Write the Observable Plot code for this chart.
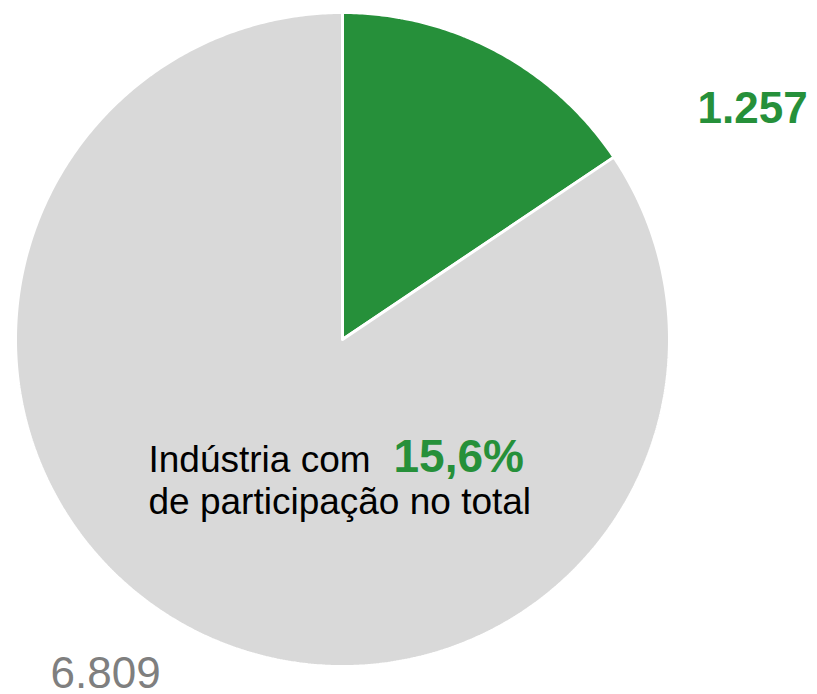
<!DOCTYPE html>
<html>
<head>
<meta charset="utf-8">
<script src="https://cdn.jsdelivr.net/npm/d3@7"></script>
<script src="https://cdn.jsdelivr.net/npm/@observablehq/plot@0.6"></script>
<style>
  html, body { margin: 0; padding: 0; background: #fff; }
  #chart svg { display: block; }
</style>
</head>
<body>
<div id="chart"></div>
<script>
// ---- data ----
const categories = ["Indústria", "Demais"];
const values = [1257, 6809];
const colors = ["#26903a", "#d9d9d9"];
const labelColors = ["#26903a", "#7f7f7f"];
const labelWeights = ["bold", "normal"];
const captionLine1 = "Indústria com";
const captionLine2 = "de participação no total";

// ---- layout ----
const W = 817, H = 694;
const cx = 342, cy = 339, R = 327;
const fmtLocale = d3.formatLocale({decimal: ",", thousands: ".", grouping: [3], currency: ["R$", ""]});
const fmtNum = fmtLocale.format(",d");
const fmtPct = fmtLocale.format(".1%");

const pie = d3.pie().sort(null).value(d => d.value);
const rows = categories.map((c, i) => ({cat: c, value: values[i], color: colors[i], lc: labelColors[i], lw: labelWeights[i]}));
const arcs = pie(rows);

// polygon points for each slice
const pts = [];
arcs.forEach(a => {
  const n = Math.max(4, Math.ceil((a.endAngle - a.startAngle) / (Math.PI / 180) * 2));
  pts.push({cat: a.data.cat, color: a.data.color, x: cx, y: cy});
  for (let k = 0; k <= n; k++) {
    const t = a.startAngle + (a.endAngle - a.startAngle) * k / n;
    pts.push({cat: a.data.cat, color: a.data.color, x: cx + R * Math.sin(t), y: cy - R * Math.cos(t)});
  }
  pts.push({cat: a.data.cat, color: a.data.color, x: cx, y: cy});
});

const total = d3.sum(values);
const share = values[0] / total;

// outside value labels
const labelPos = [{x: 697, y: 122}, {x: 50, y: 687}];
const valueLabels = arcs.map((a, i) => ({
  text: fmtNum(a.data.value), x: labelPos[i].x, y: labelPos[i].y, color: a.data.lc, weight: a.data.lw
}));

const chart = Plot.plot({
  width: W, height: H,
  margin: 0,
  x: {domain: [0, W], range: [0, W], axis: null},
  y: {domain: [0, H], range: [0, H], axis: null},
  style: {fontFamily: "'Liberation Sans', Arial, sans-serif", background: "#fff"},
  marks: [
    Plot.line(pts, {x: "x", y: "y", z: "cat", fill: "color", stroke: "white", strokeWidth: 3, strokeLinejoin: "miter", curve: "linear"}),
    Plot.text(valueLabels.filter(d => d.weight === "bold"), {x: "x", y: "y", text: "text", fill: "color", fontSize: 44, fontWeight: "bold", textAnchor: "start", lineAnchor: "bottom"}),
    Plot.text(valueLabels.filter(d => d.weight !== "bold"), {x: "x", y: "y", text: "text", fill: "color", fontSize: 44, textAnchor: "start", lineAnchor: "bottom"}),
    Plot.text([captionLine1], {x: () => 148, y: () => 471, text: d => d, fill: "#000", fontSize: 37, textAnchor: "start", lineAnchor: "bottom"}),
    Plot.text([fmtPct(share)], {x: () => 393, y: () => 471, text: d => d, fill: colors[0], fontSize: 46, fontWeight: "bold", textAnchor: "start", lineAnchor: "bottom"}),
    Plot.text([captionLine2], {x: () => 148, y: () => 513, text: d => d, fill: "#000", fontSize: 37, textAnchor: "start", lineAnchor: "bottom"})
  ]
});
document.getElementById("chart").appendChild(chart);
</script>
</body>
</html>
